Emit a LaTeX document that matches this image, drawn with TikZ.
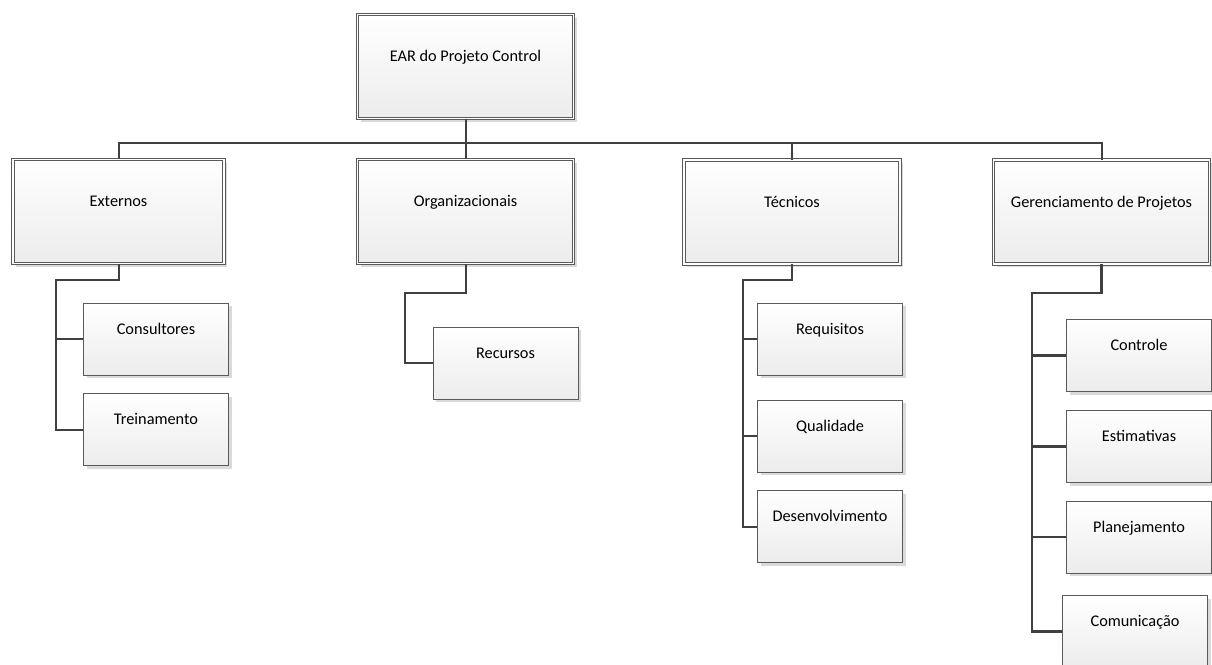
\documentclass[tikz,border=0pt]{standalone}
\usepackage{fontspec}
\setmainfont{Carlito}
\usetikzlibrary{shadows,calc}
\definecolor{edge}{HTML}{5A5A5A}
\definecolor{conn}{HTML}{404040}
\definecolor{shade}{HTML}{ECECEC}
\definecolor{shadowc}{HTML}{DADADA}
\tikzset{
  boxbase/.style={rectangle, top color=white, bottom color=shade,
    font=\fontsize{16.3}{19}\selectfont, text height=11pt, text depth=21pt,
    drop shadow={shadow xshift=3pt, shadow yshift=-3pt, fill=shadowc, opacity=1}},
  topbox/.style={boxbase, draw=edge, line width=0.8pt, double=white, double distance=1.6pt,
    minimum width=216pt, minimum height=104pt},
  subbox/.style={boxbase, draw=edge, line width=1pt, minimum width=145pt, minimum height=72pt},
  link/.style={draw=conn, line width=2pt},
  boldlink/.style={draw=conn, line width=2.8pt}
}
\begin{document}
\begin{tikzpicture}[x=1pt,y=-1pt]
\useasboundingbox (0,0) rectangle (1212,664);
% level 0
\node[topbox, minimum height=104pt] (root) at (465.5,66.5) {EAR do Projeto Control};
% level 1
\node[topbox, minimum width=211pt] (ext) at (118.5,211.5) {Externos};
\node[topbox] (org) at (465.5,211.5) {Organizacionais};
\node[topbox] (tec) at (792,212) {Técnicos};
\node[topbox] (ger) at (1101.5,212) {Gerenciamento de Projetos};
% level 2
\node[subbox] (con) at (156,339) {Consultores};
\node[subbox] (tre) at (156,429.5) {Treinamento};
\node[subbox] (rec) at (505.5,363) {Recursos};
\node[subbox] (req) at (830,339) {Requisitos};
\node[subbox] (qua) at (830,436) {Qualidade};
\node[subbox] (des) at (830,526.5) {Desenvolvimento};
\node[subbox] (ctl) at (1139,355.5) {Controle};
\node[subbox] (est) at (1139,446.5) {Estimativas};
\node[subbox] (pla) at (1139,537) {Planejamento};
\node[subbox] (com) at (1135,631.5) {Comunicação};
% bus
\coordinate (bus) at (465.5,143);
\draw[link] (root.south) -- (bus);
\draw[link] (ext.north) |- (bus) -| (ger.north);
\draw[link] (org.north) -- (org.north |- bus);
\draw[link] (tec.north) -- (tec.north |- bus);
% Externos
\coordinate (e1) at (56,280);
\draw[link] (ext.south) |- (e1) |- (tre.west);
\draw[link] (con.west) -- (con.west -| e1);
% Organizacionais
\coordinate (o1) at (405,293);
\draw[link] (org.south) |- (o1) |- (rec.west);
% Tecnicos
\coordinate (t1) at (743,280);
\draw[link] (tec.south) |- (t1) |- (des.west);
\draw[link] (req.west) -- (req.west -| t1);
\draw[link] (qua.west) -- (qua.west -| t1);
% Gerenciamento
\coordinate (g1) at (1032,293);
\draw[boldlink] (ger.south) |- (g1) |- (com.west);
\draw[boldlink] (ctl.west) -- (ctl.west -| g1);
\draw[boldlink] (est.west) -- (est.west -| g1);
\draw[boldlink] (pla.west) -- (pla.west -| g1);
\end{tikzpicture}
\end{document}
